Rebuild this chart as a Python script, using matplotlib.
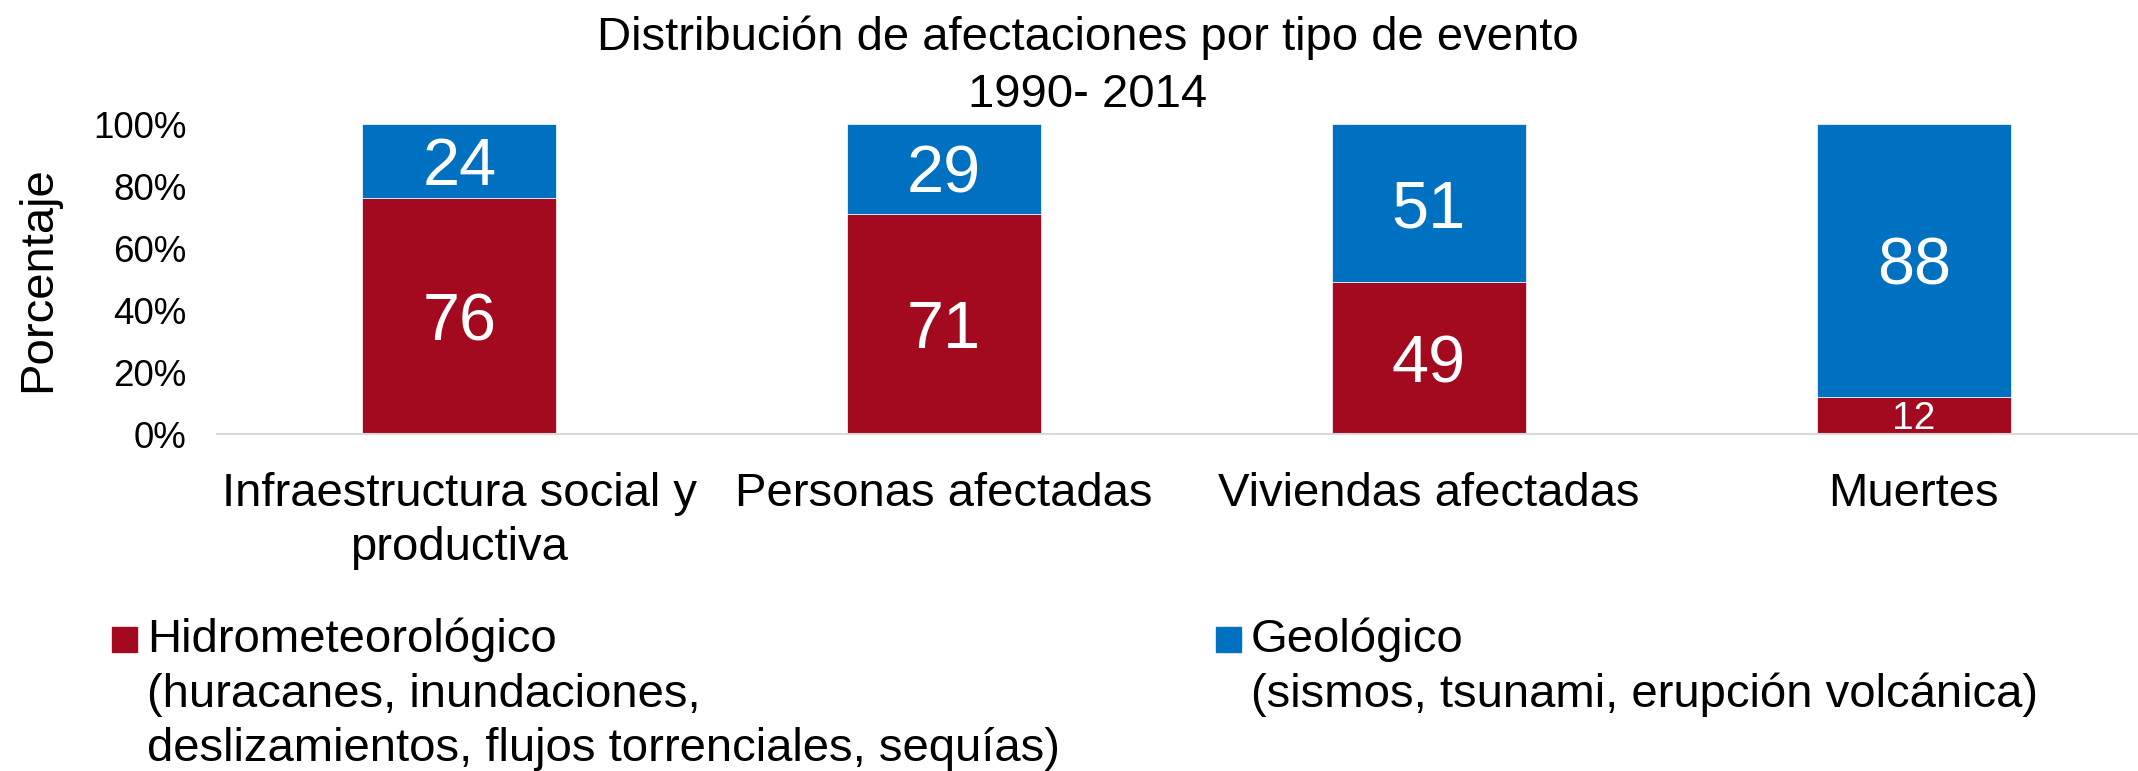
import matplotlib.pyplot as plt
from matplotlib.patches import Rectangle

# data (percent)
categorias = ['Infraestructura social y\nproductiva', 'Personas afectadas',
              'Viviendas afectadas', 'Muertes']
hidro = [76, 71, 49, 12]
geo = [24, 29, 51, 88]
ticks = [0, 20, 40, 60, 80, 100]
tick_labels = ['0%', '20%', '40%', '60%', '80%', '100%']

rojo = '#A30A1F'
azul = '#0071C1'

plt.rcParams['font.family'] = ['Liberation Sans', 'DejaVu Sans']

fig = plt.figure(figsize=(21.38, 7.71), dpi=100)
ax = fig.add_axes([217/2138, 337/771, 1939/2138, 310/771])

x = range(len(categorias))
ax.bar(x, hidro, width=0.4, color=rojo, edgecolor='white', linewidth=0.5)
ax.bar(x, geo, width=0.4, bottom=hidro, color=azul, edgecolor='white', linewidth=0.5)

# value labels inside the segments
for i in x:
    size_h = 28 if hidro[i] < 20 else 48
    ax.text(i, hidro[i] / 2, str(hidro[i]), ha='center', va='center_baseline',
            color='white', fontsize=size_h)
    ax.text(i, hidro[i] + geo[i] / 2, str(geo[i]), ha='center', va='center_baseline',
            color='white', fontsize=48)

ax.set_xlim(-0.5, 3.5)
ax.set_ylim(0, 100)
ax.set_yticks(ticks)
ax.set_yticklabels(tick_labels, fontsize=26.5)
ax.set_xticks(list(x))
ax.set_xticklabels(categorias, fontsize=34, linespacing=1.3)
ax.tick_params(axis='both', length=0)
ax.tick_params(axis='y', pad=22)
ax.tick_params(axis='x', pad=27)

for s in ['top', 'right', 'left']:
    ax.spines[s].set_visible(False)
ax.spines['bottom'].set_color('#d9d9d9')
ax.spines['bottom'].set_linewidth(1.5)

ax.set_ylabel('Porcentaje', fontsize=34, va='center')
ax.yaxis.set_label_coords((38 - 217)/1939, 0.5)

fig.text(1088/2138, 1 - 16/771, 'Distribución de afectaciones por tipo de evento\n1990- 2014',
         ha='center', va='top', fontsize=34, linespacing=1.36)

# legend drawn by hand
leyenda = [
    ('Hidrometeorológico\n(huracanes, inundaciones,\ndeslizamientos, flujos torrenciales, sequías)', rojo, 112),
    ('Geológico\n(sismos, tsunami, erupción volcánica)', azul, 1216),
]
for texto, color, x0 in leyenda:
    fig.patches.append(Rectangle((x0/2138, (771-652)/771), 25/2138, 25/771,
                                 transform=fig.transFigure, color=color))
    fig.text((x0 + 35)/2138, (771-618)/771, texto, ha='left', va='top',
             fontsize=34, linespacing=1.3)

fig.savefig('out.png', dpi=100)
